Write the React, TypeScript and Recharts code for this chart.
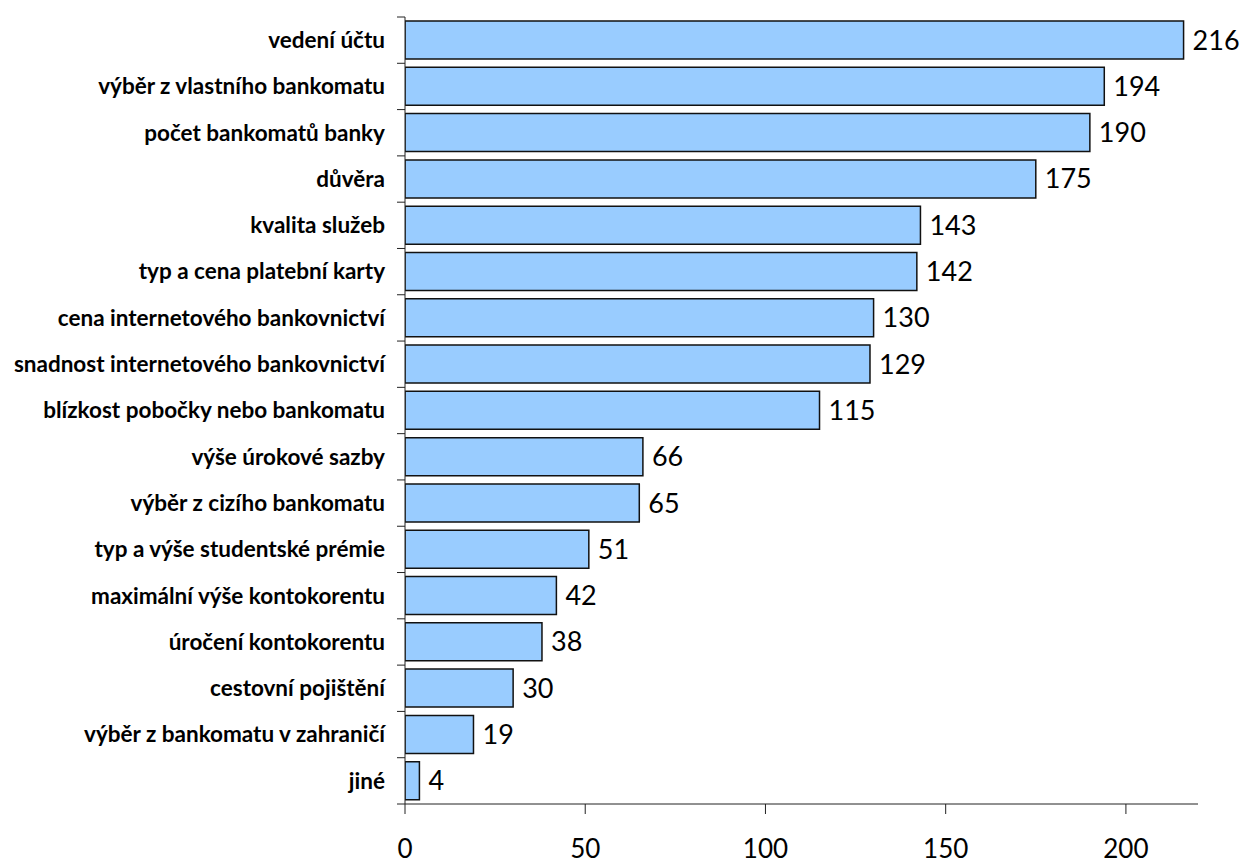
import React from 'react';
import { BarChart, Bar, XAxis, YAxis, LabelList } from 'recharts';

// Criteria for choosing a bank, number of respondents
const criteria: string[] = [
  'vedení účtu',
  'výběr z vlastního bankomatu',
  'počet bankomatů banky',
  'důvěra',
  'kvalita služeb',
  'typ a cena platební karty',
  'cena internetového bankovnictví',
  'snadnost internetového bankovnictví',
  'blízkost pobočky nebo bankomatu',
  'výše úrokové sazby',
  'výběr z cizího bankomatu',
  'typ a výše studentské prémie',
  'maximální výše kontokorentu',
  'úročení kontokorentu',
  'cestovní pojištění',
  'výběr z bankomatu v zahraničí',
  'jiné',
];

const counts: number[] = [216, 194, 190, 175, 143, 142, 130, 129, 115, 66, 65, 51, 42, 38, 30, 19, 4];

const xTicks: number[] = [0, 50, 100, 150, 200];

const data = criteria.map((name, i) => ({ name, value: counts[i] }));

const WIDTH = 1241;
const HEIGHT = 864;
const MARGIN = { top: 17, right: 43, bottom: 0, left: 0 };
const Y_AXIS_WIDTH = 405;
const X_AXIS_HEIGHT = 60;
const PLOT_LEFT = MARGIN.left + Y_AXIS_WIDTH;
const PLOT_HEIGHT = HEIGHT - MARGIN.top - MARGIN.bottom - X_AXIS_HEIGHT;
const BAND = PLOT_HEIGHT / criteria.length;

const FONT = 'Lato, "Open Sans", sans-serif';
const AXIS_COLOR = '#222';

// Category label plus an Excel-style tick mark on the band boundary
const CategoryTick = (props: any) => {
  const { y, payload, index } = props;
  const top = y - BAND / 2;
  const bottom = y + BAND / 2;
  return (
    <g>
      <line x1={PLOT_LEFT - 8} x2={PLOT_LEFT} y1={top} y2={top} stroke={AXIS_COLOR} strokeWidth={1} />
      {index === criteria.length - 1 && (
        <line x1={PLOT_LEFT - 8} x2={PLOT_LEFT} y1={bottom} y2={bottom} stroke={AXIS_COLOR} strokeWidth={1} />
      )}
      <text
        x={PLOT_LEFT - 20}
        y={y}
        dy="0.35em"
        textAnchor="end"
        fontFamily={FONT}
        fontWeight={700}
        fontSize={22.5}
        fill="#000"
      >
        {payload.value}
      </text>
    </g>
  );
};

const ValueTick = (props: any) => {
  const { x, y, payload } = props;
  return (
    <text x={x} y={y + 44} textAnchor="middle" fontFamily={FONT} fontSize={26} fill="#000">
      {payload.value}
    </text>
  );
};

export default function App() {
  return (
    <div style={{ position: 'absolute', left: 0, top: 0, background: '#fff' }}>
      <BarChart width={WIDTH} height={HEIGHT} data={data} layout="vertical" margin={MARGIN}>
        <XAxis
          type="number"
          domain={[0, 220]}
          ticks={xTicks}
          allowDataOverflow
          height={X_AXIS_HEIGHT}
          tickSize={10}
          tickMargin={0}
          stroke={AXIS_COLOR}
          tickLine={{ stroke: AXIS_COLOR }}
          axisLine={{ stroke: AXIS_COLOR }}
          tick={<ValueTick />}
        />
        <YAxis
          type="category"
          dataKey="name"
          width={Y_AXIS_WIDTH}
          interval={0}
          tickLine={false}
          axisLine={{ stroke: AXIS_COLOR }}
          tick={<CategoryTick />}
        />
        <Bar dataKey="value" fill="#99CCFF" stroke="#111" strokeWidth={1.5} barSize={38} isAnimationActive={false}>
          <LabelList
            dataKey="value"
            position="right"
            offset={9}
            fontFamily={FONT}
            fontSize={27}
            fill="#000"
          />
        </Bar>
      </BarChart>
    </div>
  );
}
